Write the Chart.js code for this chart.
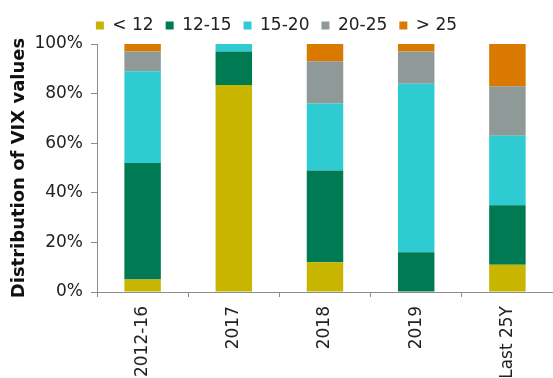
<!DOCTYPE html>
<html>
<head>
<meta charset="utf-8">
<script src="https://cdn.jsdelivr.net/npm/chart.js@4"></script>
<style>
    html, body { margin: 0; padding: 0; background: #fff; overflow: hidden; }
    #wrap { width: 553px; height: 400px; }
</style>
</head>
<body>
<div id="wrap"><canvas id="vixChart" width="553" height="400"></canvas></div>
<script>
// 데이터
const categories = ['2012-16', '2017', '2018', '2019', 'Last 25Y'];
const seriesNames = ['< 12', '12-15', '15-20', '20-25', '> 25'];
const seriesColors = ['#C7B500', '#007A53', '#2ECBD3', '#8F9A98', '#D97900'];

const below12 = [5, 83.5, 12, 0, 11];
const from12to15 = [47, 13.5, 37, 16, 24];
const from15to20 = [37, 3, 27, 68, 28];
const from20to25 = [8, 0, 17, 13, 20];
const above25 = [3, 0, 7, 3, 17];

const yTicks = [0, 20, 40, 60, 80, 100];

const seriesValues = [below12, from12to15, from15to20, from20to25, above25];

const FONT = 'DejaVu Sans';
const AXIS_COLOR = '#8c8c8c';

const ctx = document.getElementById('vixChart').getContext('2d');

new Chart(ctx, {
    type: 'bar',
    data: {
        labels: categories,
        datasets: seriesNames.map((name, i) => ({
            label: name,
            data: seriesValues[i],
            backgroundColor: seriesColors[i],
            borderWidth: 0,
            categoryPercentage: 1,
            barPercentage: 0.4
        }))
    },
    options: {
        responsive: false,
        animation: false,
        layout: { padding: { left: 0, right: 0, top: 5, bottom: 0 } },
        plugins: {
            legend: {
                position: 'top',
                align: 'center',
                labels: {
                    boxWidth: 8,
                    boxHeight: 8,
                    padding: 12,
                    color: '#222',
                    font: { family: FONT, size: 17 }
                }
            },
            tooltip: { enabled: false }
        },
        scales: {
            x: {
                stacked: true,
                offset: true,
                grid: {
                    offset: true,
                    drawOnChartArea: false,
                    drawTicks: true,
                    tickLength: 5,
                    color: AXIS_COLOR
                },
                border: { color: AXIS_COLOR, width: 1 },
                ticks: {
                    minRotation: 90,
                    maxRotation: 90,
                    autoSkip: false,
                    padding: 9,
                    color: '#222',
                    font: { family: FONT, size: 17 }
                },
                afterFit: scale => { scale.height = 108; }
            },
            y: {
                stacked: true,
                min: 0,
                max: 100,
                afterBuildTicks: scale => {
                    scale.ticks = yTicks.map(v => ({ value: v }));
                },
                grid: {
                    drawOnChartArea: false,
                    drawTicks: true,
                    tickLength: 6,
                    color: AXIS_COLOR
                },
                border: { color: AXIS_COLOR, width: 1 },
                ticks: {
                    padding: 8,
                    color: '#222',
                    font: { family: FONT, size: 17 },
                    callback: v => v + '%'
                },
                title: {
                    display: true,
                    text: 'Distribution of VIX values',
                    color: '#111',
                    font: { family: FONT, size: 18, weight: 'bold' },
                    padding: { top: 9, bottom: 0 }
                },
                afterFit: scale => { scale.width = 97; }
            }
        }
    }
});
</script>
</body>
</html>
